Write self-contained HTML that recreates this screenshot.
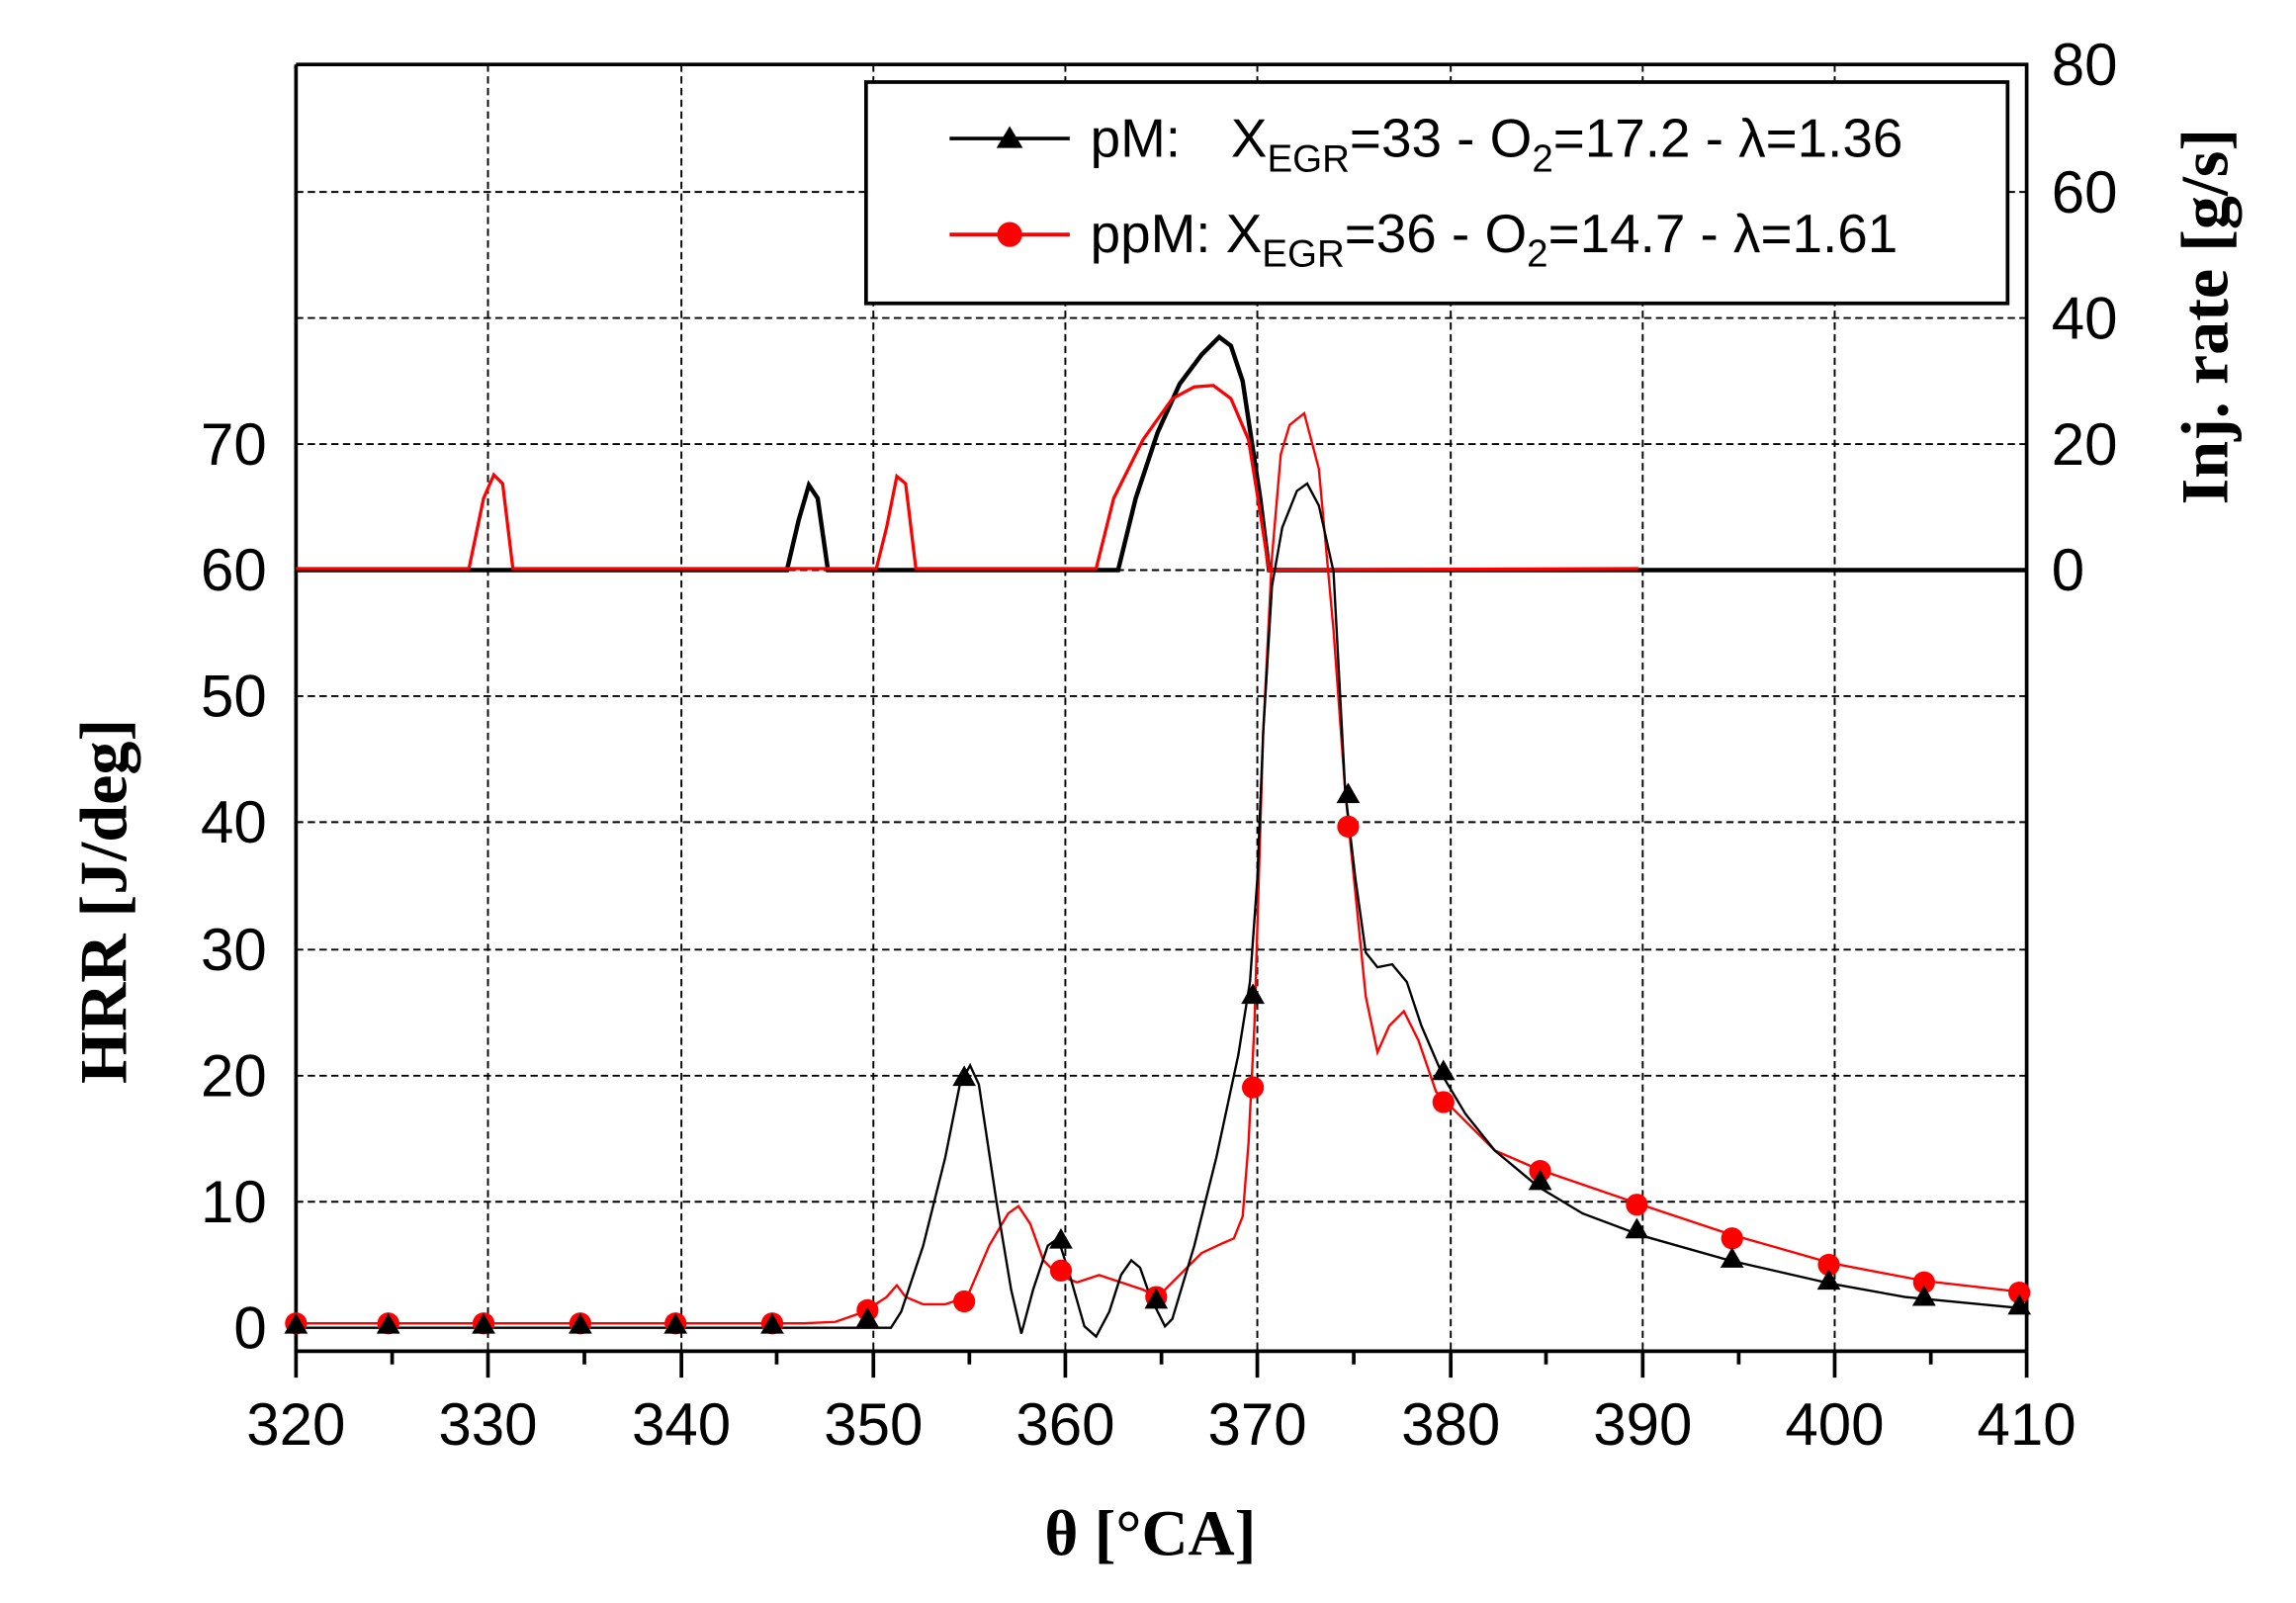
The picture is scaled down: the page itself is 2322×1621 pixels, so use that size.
<!DOCTYPE html>
<html><head><meta charset="utf-8"><style>
html,body{margin:0;padding:0;background:#fff;}
svg{display:block;}
text{font-family:"Liberation Sans",Arial,sans-serif;}
</style></head><body>
<svg width="2322" height="1621" viewBox="0 0 1566.8 1093.8" preserveAspectRatio="none" xmlns="http://www.w3.org/2000/svg">
<rect width="1567" height="1094" fill="#fff"/>
<!-- grid -->
<g stroke="#000" stroke-width="1.3" stroke-dasharray="5,3" fill="none">
<path d="M333 44V922M465 44V922M596 44V922M727 44V922M858 44V922M990 44V922M1121 44V922M1252 44V922"/>
<path d="M202 820H1383M202 734H1383M202 648H1383M202 561H1383M202 475H1383M202 389H1383M202 303H1383M202 217H1383M202 131H1383"/>
</g>
<!-- legend box -->
<rect x="591" y="56" width="779" height="151" fill="#fff" stroke="#000" stroke-width="2.5"/>
<!-- axes -->
<g stroke="#000" stroke-width="2.5" fill="none">
<path d="M202 44H1383V922M202 44V940"/>
<path d="M202 922H1383"/>
<path d="M267.6 922v9M333 922v18M398.8 922v9M465 922v18M530 922v9M596 922v18M661.5 922v9M727 922v18M792.6 922v9M858 922v18M923.8 922v9M990 922v18M1055 922v9M1121 922v18M1186.5 922v9M1252 922v18M1317.6 922v9M1383 922v18"/>
</g>
<!-- tick labels -->
<g font-size="40.5" fill="#000" text-anchor="end">
<text x="182" y="920">0</text><text x="182" y="834">10</text><text x="182" y="748">20</text><text x="182" y="662">30</text><text x="182" y="575">40</text><text x="182" y="489">50</text><text x="182" y="403">60</text><text x="182" y="317">70</text>
</g>
<g font-size="40.5" fill="#000">
<text x="1400" y="403">0</text><text x="1400" y="317">20</text><text x="1400" y="231">40</text><text x="1400" y="145">60</text><text x="1400" y="58">80</text>
</g>
<g font-size="40.5" fill="#000" text-anchor="middle">
<text x="202" y="986">320</text><text x="333" y="986">330</text><text x="465" y="986">340</text><text x="596" y="986">350</text><text x="727" y="986">360</text><text x="858" y="986">370</text><text x="990" y="986">380</text><text x="1121" y="986">390</text><text x="1252" y="986">400</text><text x="1383" y="986">410</text>
</g>
<!-- axis titles -->
<text x="785" y="1061" text-anchor="middle" font-family="Liberation Serif,serif" font-weight="bold" font-size="44" style="font-family:'Liberation Serif',serif">θ [°CA]</text>
<text transform="translate(86,615) rotate(-90)" text-anchor="middle" font-weight="bold" font-size="46" style="font-family:'Liberation Serif',serif">HRR [J/deg]</text>
<text transform="translate(1520,216) rotate(-90)" text-anchor="middle" font-weight="bold" font-size="46" style="font-family:'Liberation Serif',serif">Inj. rate [g/s]</text>
<!-- injection rates -->
<polyline fill="none" stroke="#000" stroke-width="3" points="202,389 537,389 545,355 552,331 558,340 565,389 763,389 775,340 790,295 805,262 820,242 832,230 840,236 848,260 860,340 866,389 1383,389"/>
<polyline fill="none" stroke="#f00" stroke-width="2.2" points="202,388 320,388 330,340 337,324 343,330 350,388 598,388 605,360 612,325 618,330 625,388 748,388 760,340 780,300 800,272 815,264 828,263 840,272 852,300 860,350 866,389 1118,388"/>
<!-- HRR curves -->
<polyline fill="none" stroke="#f00" stroke-width="1.6" points="202,903 548,903 570,902 590,895 605,885 612,877 618,885 630,890 645,890 660,885 675,850 688,828 695,823 703,835 712,860 722,870 735,875 750,870 765,875 780,880 790,885 805,870 820,855 835,848 842,845 848,830 852,780 856,700 862,500 868,380 874,310 880,290 890,282 900,320 910,430 918,540 925,610 932,680 940,718 948,700 958,690 968,710 980,745 990,755 1020,785 1050,798 1120,822 1180,842 1250,862 1313,874 1383,882"/>
<polyline fill="none" stroke="#000" stroke-width="1.6" points="202,906 608,906 615,895 630,850 645,790 655,740 662,727 668,740 680,820 690,880 697,910 705,880 715,850 722,845 730,870 740,905 748,912 757,895 765,870 772,860 778,865 785,885 795,905 800,900 815,850 830,790 845,720 853,670 858,600 862,500 868,400 875,360 885,335 892,330 900,345 910,390 918,540 925,600 932,650 940,660 950,658 960,670 970,700 985,735 1000,760 1020,785 1050,810 1080,828 1120,843 1180,860 1250,876 1300,885 1383,893"/>
<!-- red markers -->
<g fill="#f00">
<circle cx="202" cy="903" r="7.5"/><circle cx="265" cy="903" r="7.5"/><circle cx="330" cy="903" r="7.5"/><circle cx="396" cy="903" r="7.5"/><circle cx="461" cy="903" r="7.5"/><circle cx="527" cy="903" r="7.5"/><circle cx="592" cy="894" r="7.5"/><circle cx="658" cy="888" r="7.5"/><circle cx="724" cy="867" r="7.5"/><circle cx="789" cy="885" r="7.5"/><circle cx="855" cy="742" r="7.5"/><circle cx="920" cy="564" r="7.5"/><circle cx="985" cy="752" r="7.5"/><circle cx="1051" cy="799" r="7.5"/><circle cx="1117" cy="822" r="7.5"/><circle cx="1182" cy="845" r="7.5"/><circle cx="1248" cy="863" r="7.5"/><circle cx="1313" cy="875" r="7.5"/><circle cx="1378" cy="882" r="7.5"/>
</g>
<!-- black triangles -->
<g fill="#000">
<path d="M202 896l8 14h-16zM265 896l8 14h-16zM330 896l8 14h-16zM396 896l8 14h-16zM461 896l8 14h-16zM527 896l8 14h-16zM592 892l8 14h-16zM658 727l8 14h-16zM724 838l8 14h-16zM789 879l8 14h-16zM855 671l8 14h-16zM920 534l8 14h-16zM985 723l8 14h-16zM1051 798l8 14h-16zM1117 831l8 14h-16zM1182 851l8 14h-16zM1248 866l8 14h-16zM1313 877l8 14h-16zM1378 883l8 14h-16z"/>
</g>
<!-- legend -->
<line x1="648" y1="94.5" x2="730" y2="94.5" stroke="#000" stroke-width="2.5"/>
<path d="M689 86l9 15h-18z" fill="#000"/>
<line x1="648" y1="160" x2="730" y2="160" stroke="#f00" stroke-width="2.5"/>
<circle cx="689" cy="160" r="8.5" fill="#f00"/>
<g font-size="37" fill="#000">
<text x="744" y="107">pM:<tspan x="840">X</tspan><tspan font-size="26" dy="10">EGR</tspan><tspan dy="-10">=33 - O</tspan><tspan font-size="26" dy="10">2</tspan><tspan dy="-10">=17.2 - λ=1.36</tspan></text>
<text x="744" y="172">ppM: X<tspan font-size="26" dy="10">EGR</tspan><tspan dy="-10">=36 - O</tspan><tspan font-size="26" dy="10">2</tspan><tspan dy="-10">=14.7 - λ=1.61</tspan></text>
</g>
</svg>
</body></html>
